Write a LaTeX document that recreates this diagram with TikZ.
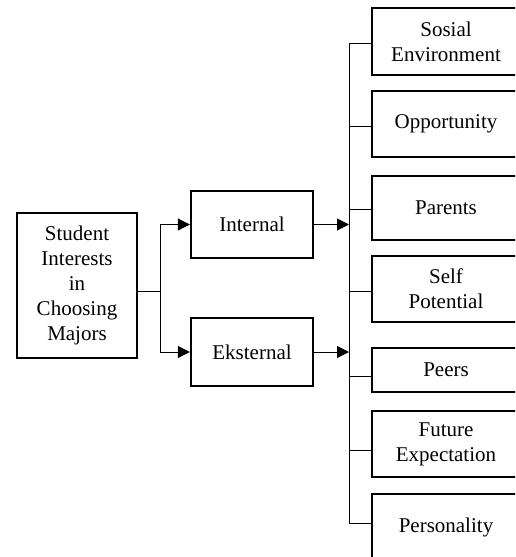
\documentclass[tikz,border=0pt]{standalone}
\usepackage{fontspec}
\setmainfont{Liberation Serif}
\usetikzlibrary{arrows.meta}
\begin{document}
\begin{tikzpicture}[x=0.5pt,y=-0.5pt,
  box/.style={draw,line width=1.2pt,rectangle,inner sep=0pt,align=center,
    font=\fontsize{10.5pt}{12.5pt}\selectfont},
  conn/.style={line width=0.5pt},
  arr/.style={line width=0.5pt,-{Triangle[length=6pt,width=6pt]}}]
\clip (0,0) rectangle (515,557);
\node[box,minimum width=60pt,minimum height=72.5pt] (stu) at (77,285.5) {Student\\Interests\\in\\Choosing\\Majors};
\node[box,minimum width=61pt,minimum height=33.5pt] (int) at (252,224.5) {Internal};
\node[box,minimum width=61pt,minimum height=34pt] (eks) at (252,352) {Eksternal};
\node[box,minimum width=74pt,minimum height=33.5pt] (r1) at (446,41.5) {Sosial\\Environment};
\node[box,minimum width=74pt,minimum height=33pt] (r2) at (446,124) {Opportunity};
\node[box,minimum width=74pt,minimum height=32pt] (r3) at (446,208) {Parents};
\node[box,minimum width=74pt,minimum height=33pt] (r4) at (446,289) {Self\\Potential};
\node[box,minimum width=74pt,minimum height=22pt] (r5) at (446,370) {Peers};
\node[box,minimum width=74pt,minimum height=33pt] (r6) at (446,444) {Future\\Expectation};
\node[box,minimum width=74pt,minimum height=33pt] (r7) at (446,527) {Personality};
\coordinate (split) at (160,291);
\coordinate (bt) at (349,43);
\coordinate (bb) at (349,523);
\draw[conn] (stu.east |- split) -- (split);
\draw[conn] (160,224.5) -- (160,352);
\draw[arr] (160,224.5) -- (int.west);
\draw[arr] (160,352) -- (eks.west);
\draw[conn] (bt) -- (bb);
\draw[arr] (int.east) -- (int.east -| bt);
\draw[arr] (eks.east) -- (eks.east -| bt);
\draw[conn] (bt) -- (r1.west |- bt);
\draw[conn] (349,126) -- (r2.west |- 0,126);
\draw[conn] (349,209) -- (r3.west |- 0,209);
\draw[conn] (349,291) -- (r4.west |- 0,291);
\draw[conn] (349,376) -- (r5.west |- 0,376);
\draw[conn] (349,450) -- (r6.west |- 0,450);
\draw[conn] (bb) -- (r7.west |- bb);
\end{tikzpicture}
\end{document}
